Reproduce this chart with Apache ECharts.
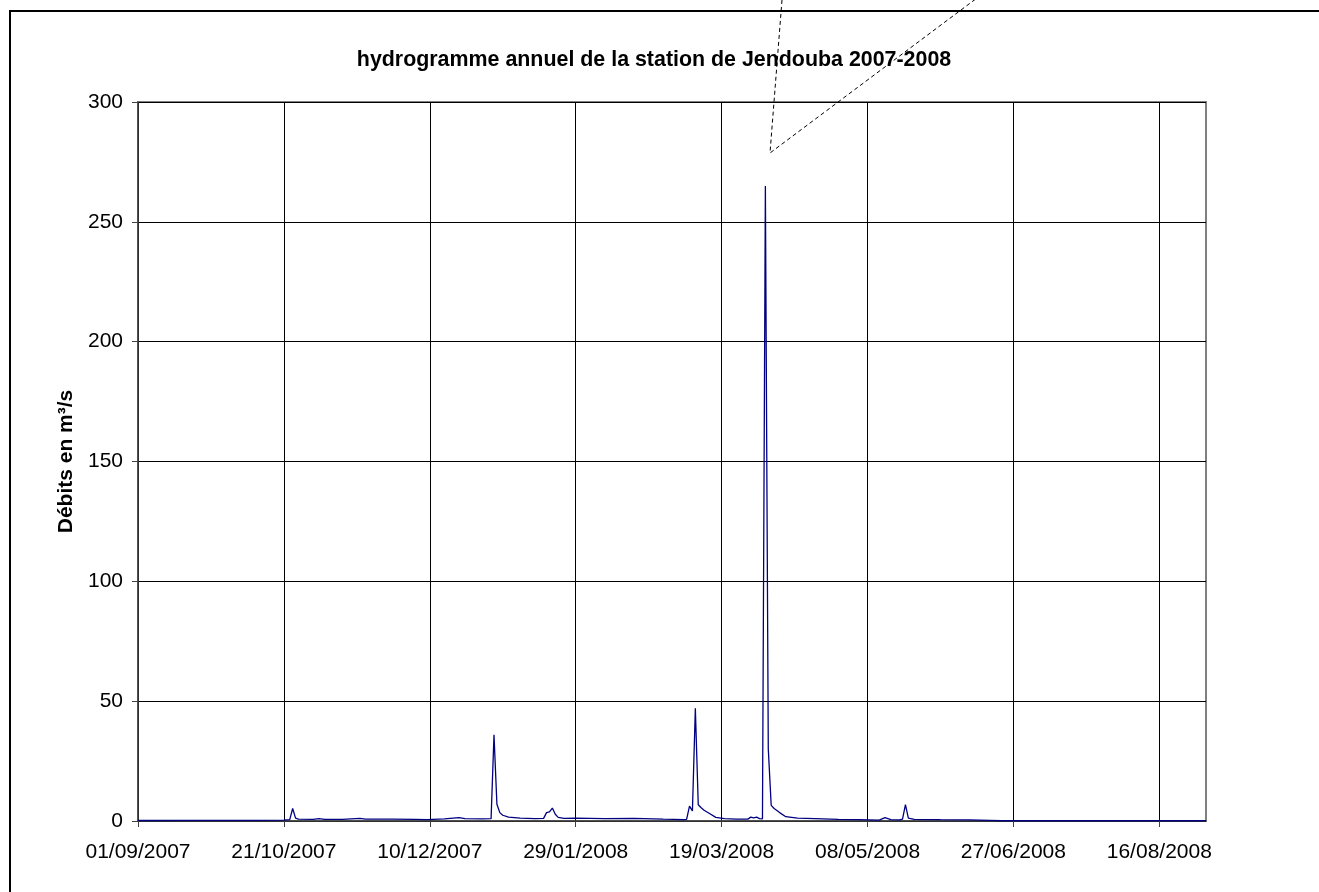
<!DOCTYPE html>
<html>
<head>
<meta charset="utf-8">
<script src="https://cdn.jsdelivr.net/npm/echarts@6/dist/echarts.min.js"></script>
<style>
html,body{margin:0;padding:0;background:#fff;}
#chart{width:1319px;height:892px;}
</style>
</head>
<body>
<div id="chart"></div>
<script>
// Day index counted from 01/09/2007
var days = [0, 20, 40, 50, 52, 53, 54, 55, 60, 62, 64, 70, 76, 78, 87, 95, 99, 105, 110, 112, 118,
  121, 122, 123, 124, 125, 127, 131, 136, 139, 140, 141, 142, 143, 144, 146, 150, 160, 170, 180,
  187, 188, 189, 190, 191, 192, 193, 194, 196, 198, 201, 205, 209, 210, 211, 212, 213, 214, 215,
  216, 217, 218, 220, 222, 226, 232, 240, 247, 254, 256, 258, 261, 262, 263, 264, 266, 275, 285,
  292, 296, 366];
var flows = [0.2, 0.25, 0.3, 0.4, 0.6, 5.2, 1.2, 0.8, 0.7, 1.0, 0.7, 0.7, 1.1, 0.8, 0.8, 0.7, 0.6, 0.9, 1.4, 1.0, 0.9,
  1.0, 36, 7, 3.5, 2.4, 1.6, 1.2, 1.0, 1.1, 3.5, 3.8, 5.4, 2.8, 1.5, 1.1, 1.2, 1.0, 1.1, 0.8,
  0.6, 0.7, 6.2, 4.2, 47, 6.8, 5.5, 4.5, 3.0, 1.5, 1.0, 0.8, 0.8, 1.6, 1.3, 1.6, 1.0, 0.9, 265,
  30, 6.5, 5.2, 3.4, 1.8, 1.2, 1.0, 0.7, 0.6, 0.4, 1.4, 0.6, 0.5, 0.8, 6.8, 1.2, 0.7, 0.6, 0.5,
  0.3, 0.1, 0.1];
var xTicks = [0, 50, 100, 150, 200, 250, 300, 350];
var yTicks = [0, 50, 100, 150, 200, 250, 300];
var startDate = [2007, 8, 1]; // year, month index, day
var titleText = 'hydrogramme annuel de la station de Jendouba 2007-2008';
var yName = 'Débits en m³/s';

function pad(n){ return (n < 10 ? '0' : '') + n; }
function dayLabel(v){
  var d = new Date(Date.UTC(startDate[0], startDate[1], startDate[2] + v));
  return pad(d.getUTCDate()) + '/' + pad(d.getUTCMonth() + 1) + '/' + d.getUTCFullYear();
}

var seriesData = days.map(function(d, i){ return [d, flows[i]]; });
var FONT = 'Arial, "Liberation Sans", sans-serif';

var chart = echarts.init(document.getElementById('chart'), null, {renderer: 'canvas'});
chart.setOption({
  animation: false,
  backgroundColor: '#fff',
  title: {
    text: titleText,
    left: 649,
    top: 45,
    textAlign: 'center',
    textStyle: {fontFamily: FONT, fontSize: 21.4, fontWeight: 'bold', color: '#000'}
  },
  grid: {
    left: 138, top: 102, width: 1068, height: 719,
    show: true, borderColor: '#808080', borderWidth: 2, backgroundColor: 'transparent'
  },
  xAxis: {
    type: 'value',
    min: 0, max: 366, interval: 50,
    axisLine: {show: true, onZero: false, lineStyle: {color: '#404040', width: 1.5}},
    axisTick: {show: true, length: 6, lineStyle: {color: '#404040'}, customValues: xTicks},
    axisLabel: {
      customValues: xTicks,
      margin: 21, fontFamily: FONT, fontSize: 21, color: '#000',
      formatter: function(v){ return dayLabel(v); }
    },
    splitLine: {show: true, lineStyle: {color: '#000', width: 1}}
  },
  yAxis: {
    type: 'value',
    min: 0, max: 300, interval: 50,
    name: yName,
    nameLocation: 'middle',
    nameGap: 54,
    nameTextStyle: {fontFamily: FONT, fontSize: 21, fontWeight: 'bold', color: '#000'},
    axisLine: {show: true, lineStyle: {color: '#404040', width: 1.5}},
    axisTick: {show: true, length: 6, lineStyle: {color: '#404040'}},
    axisLabel: {margin: 15, fontFamily: FONT, fontSize: 21, color: '#000'},
    splitLine: {show: true, lineStyle: {color: '#000', width: 1}}
  },
  series: [{
    type: 'line',
    data: seriesData,
    showSymbol: false,
    smooth: false,
    lineStyle: {color: '#000080', width: 1.3},
    z: 5
  }],
  graphic: [
    {
      type: 'rect',
      shape: {x: 10, y: 11, width: 1400, height: 1000},
      style: {fill: 'none', stroke: '#000', lineWidth: 2},
      silent: true, z: 10
    },
    {
      type: 'polyline',
      shape: {points: [[782, 0], [770, 153], [977, -2]]},
      style: {fill: 'none', stroke: '#000', lineWidth: 1, lineDash: [4, 3]},
      silent: true, z: 10
    }
  ]
});
</script>
</body>
</html>
